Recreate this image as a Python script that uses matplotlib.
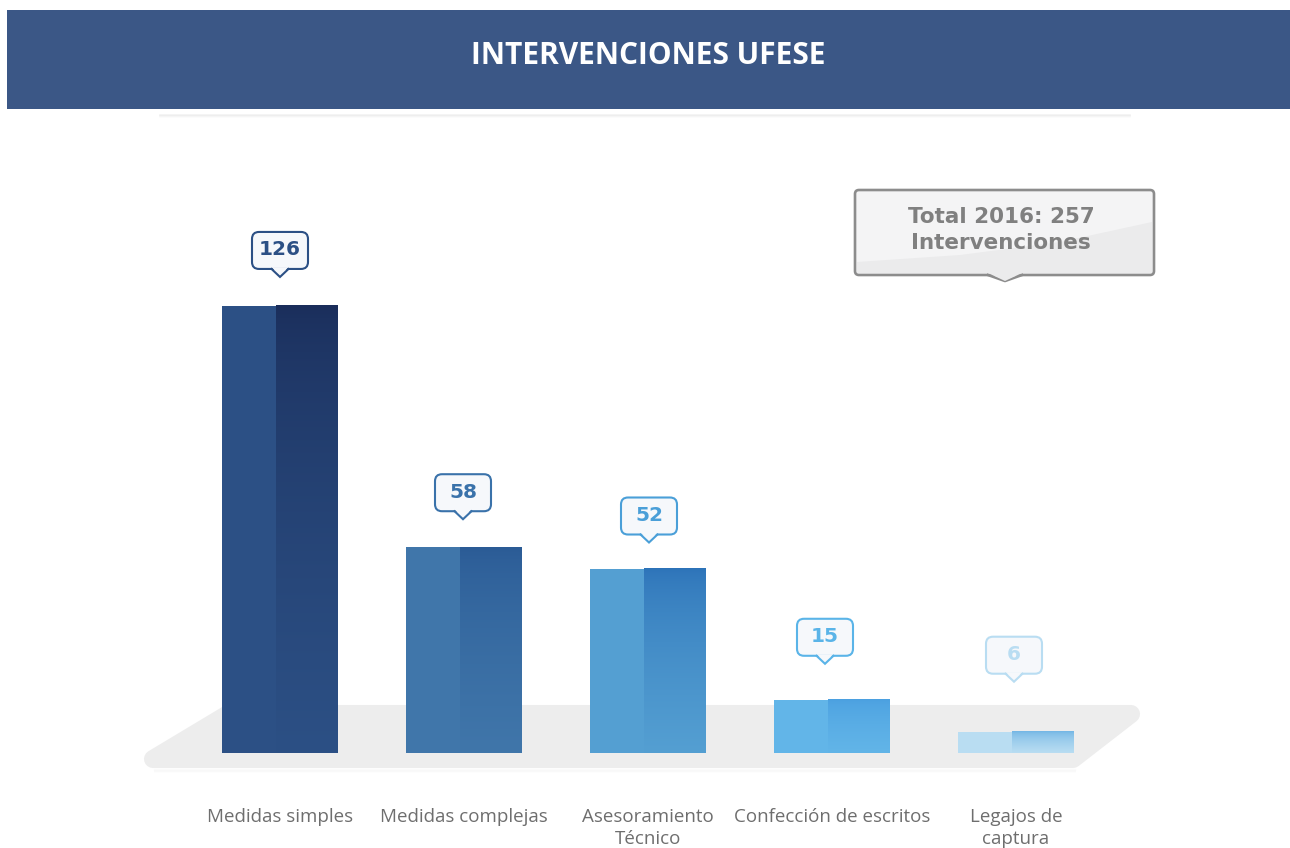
import numpy as np
import matplotlib
matplotlib.use("Agg")
import matplotlib.pyplot as plt
import matplotlib.transforms as mtransforms
from matplotlib.patches import FancyBboxPatch, Polygon, Rectangle
from matplotlib.colors import to_rgb

categories = ["Medidas simples", "Medidas complejas", "Asesoramiento\nTécnico",
              "Confección de escritos", "Legajos de\ncaptura"]
values = [126, 58, 52, 15, 6]
bar_colors = ["#2C5085", "#4076AA", "#549FD2", "#62B5E8", "#B9DDF2"]
top_colors = ["#1A2D5A", "#2A5A95", "#2C72B8", "#4A9FE0", "#6EB4E4"]
label_colors = ["#2C5085", "#3A72AA", "#4A9FD8", "#5AB4E8", "#B9DDF2"]
title = "INTERVENCIONES UFESE"
total_text = "Total 2016: 257\nIntervenciones"

# bubble placement (pixels): tip height above the bar, sideways shift
tip_gap = [29, 28, 26, 36, 50]
tip_dx = [0, -1, 1, -7, -2]

W, H = 1290, 848
fig = plt.figure(figsize=(W / 100, H / 100), dpi=100)
ax = fig.add_axes([0, 0, 1, 1])
ax.patch.set_visible(False)
XL = (-280 / 184, 4 + (W - 1016) / 184)
YL = (-95 / 3.548, (H - 95) / 3.548)
ax.axis("off")


def px(x, y):
    return x / W, 1 - y / H


figpx = mtransforms.Affine2D().scale(1 / W, -1 / H).translate(0, 1) + fig.transFigure

# title banner
fig.patches.append(Rectangle((7, 10), W - 7, 99, transform=figpx,
                             facecolor="#3B5786", edgecolor="none", zorder=1))
for k, a in enumerate([0.12, 0.08, 0.04]):
    fig.lines.append(plt.Line2D([160, 1130], [115 + k, 115 + k], transform=figpx,
                                color="#9A9A9A", alpha=a, lw=1.2))
fig.text(*px(648, 56), title, ha="center", va="center", color="white",
         fontsize=21.5, fontweight="bold", family="Open Sans")

# gray platform under the bars (pixel coords)
plat = Polygon([(228, 714), (1131, 714), (1073, 759), (153, 759)],
               closed=True, transform=figpx, facecolor="#EDEDED",
               edgecolor="#EDEDED", lw=13, joinstyle="round", zorder=0.5)
ax.add_patch(plat)
for k, a in enumerate([0.05, 0.03, 0.015]):
    ax.add_line(plt.Line2D([155, 1075], [770 + k, 770 + k], transform=figpx,
                           color="#BBBBBB", alpha=a, lw=1.5, zorder=0.5))

x = np.arange(len(values))
width = 0.63
ax.bar(x, values, width=width, color=bar_colors, zorder=2)

# darker gradient on the right half of each bar
for i, (v, c0, c1) in enumerate(zip(values, top_colors, bar_colors)):
    t = np.linspace(0, 1, 200) ** 0.6
    a, b = np.array(to_rgb(c0)), np.array(to_rgb(c1))
    grad = (a[None, :] * (1 - t[:, None]) + b[None, :] * t[:, None])[:, None, :]
    ax.imshow(grad, extent=[i - 0.02, i + width / 2, 0, v], aspect="auto",
              origin="upper", zorder=3, interpolation="bilinear")

ax.set_xlim(*XL)
ax.set_ylim(*YL)

# value bubbles, sized in pixels and anchored at the bar tops
for i, (v, col) in enumerate(zip(values, label_colors)):
    tr = (mtransforms.Affine2D().translate(tip_dx[i], tip_gap[i] - 29).scale(0.01)
          + fig.dpi_scale_trans + mtransforms.ScaledTranslation(i, v, ax.transData))
    box = FancyBboxPatch((-28, 37), 56, 37, boxstyle="round,pad=0,rounding_size=7",
                         transform=tr, facecolor="#F6F8FB", edgecolor=col,
                         lw=1.5, zorder=5)
    ax.add_patch(box)
    ax.add_patch(Polygon([(-8, 38.5), (8, 38.5), (0, 29)], closed=True, transform=tr,
                         facecolor="#F6F8FB", edgecolor="none", zorder=6))
    ax.add_line(plt.Line2D([-8.5, 0, 8.5], [37, 29, 37], transform=tr, color=col,
                           lw=1.5, zorder=6, solid_joinstyle="miter"))
    ax.text(0, 56, str(v), transform=tr, ha="center", va="center", color=col,
            fontsize=14.5, fontweight="bold", family="DejaVu Sans", zorder=7)

# total callout
fig.patches.append(FancyBboxPatch((855, 190), 299, 85,
                                  boxstyle="round,pad=0,rounding_size=4",
                                  transform=figpx, facecolor="#F4F4F5",
                                  edgecolor="none", zorder=4))
fig.patches.append(Polygon([(857, 262), (960, 255), (1060, 242), (1152, 222),
                            (1152, 273), (857, 273)], closed=True, transform=figpx,
                           facecolor="#EBEBEC", edgecolor="none", zorder=4))
fig.patches.append(FancyBboxPatch((855, 190), 299, 85,
                                  boxstyle="round,pad=0,rounding_size=4",
                                  transform=figpx, facecolor="none",
                                  edgecolor="#8C8C8C", lw=1.9, zorder=5))
fig.patches.append(Polygon([(988, 273), (1022, 273), (1005, 281)], closed=True,
                           transform=figpx, facecolor="#EBEBEC", edgecolor="none",
                           zorder=5))
fig.lines.append(plt.Line2D([988, 1005, 1022], [275, 281, 275], transform=figpx,
                            color="#8C8C8C", lw=1.9, zorder=5))
fig.text(*px(1001, 230), total_text, ha="center", va="center", color="#808080",
         fontsize=15.5, fontweight="bold", family="DejaVu Sans",
         linespacing=1.35, zorder=6)

# category labels
for i, lab in enumerate(categories):
    ax.text(i, 1 - 808 / H, lab, transform=ax.get_xaxis_transform(), ha="center",
            va="top", color="#6E6E6E", fontsize=13.5, family="Open Sans",
            linespacing=1.3)

fig.savefig("out.png", dpi=100)
